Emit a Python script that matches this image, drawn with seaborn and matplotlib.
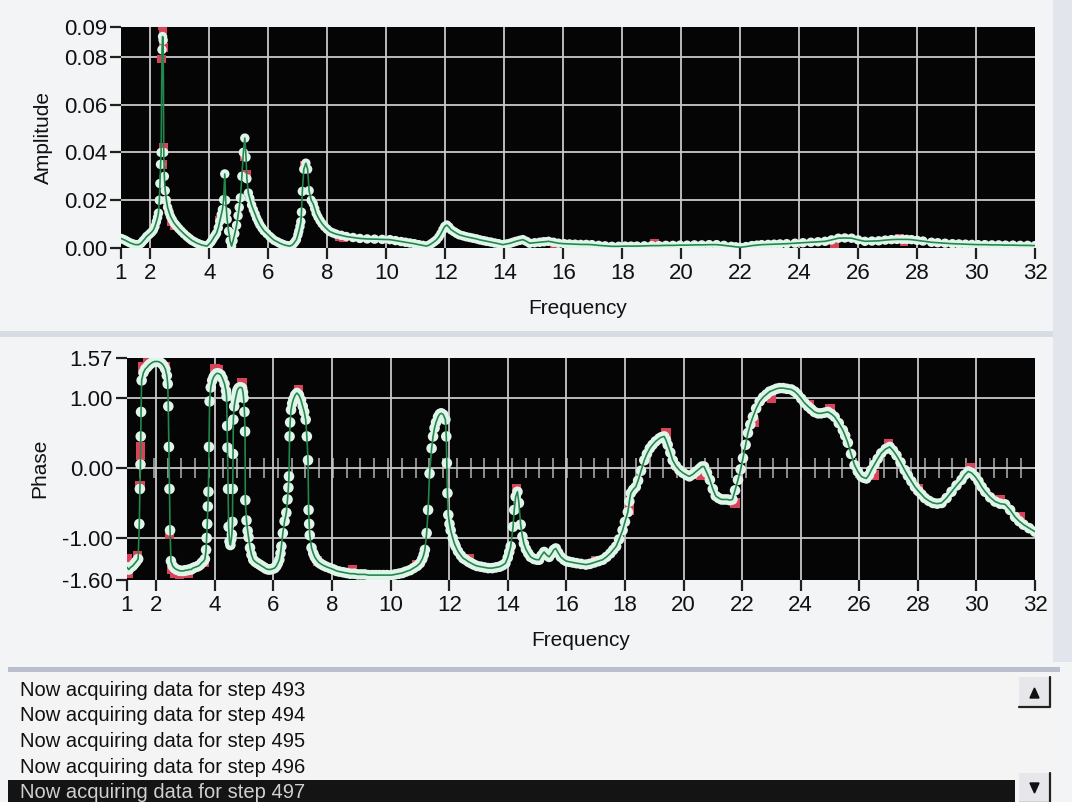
#Espectro de amplitude e fase (tela de aquisicao)
import numpy as np
import matplotlib
matplotlib.use("Agg")
import matplotlib.pyplot as plt
import seaborn as sns
from matplotlib.patches import Rectangle, Polygon


#DADOS

#amplitude - curva ajustada (verde/branca)
amp_freq = [1.00, 1.08, 1.15, 1.22, 1.30, 1.38, 1.45, 1.52, 1.60, 1.68, 1.75, 1.81,
            1.87, 1.94, 2.00, 2.05, 2.10, 2.15, 2.20, 2.24, 2.27, 2.30, 2.32, 2.34,
            2.36, 2.39, 2.41, 2.43, 2.45, 2.47, 2.50, 2.54, 2.58, 2.63, 2.68, 2.74,
            2.80, 2.85, 2.90, 2.97, 3.05, 3.14, 3.24, 3.32, 3.40, 3.49, 3.58, 3.66,
            3.75, 3.83, 3.92, 3.98, 4.05, 4.10, 4.15, 4.20, 4.24, 4.30, 4.35, 4.40,
            4.44, 4.48, 4.52, 4.55, 4.58, 4.60, 4.65, 4.70, 4.75, 4.80, 4.86, 4.92,
            4.97, 5.01, 5.05, 5.10, 5.15, 5.20, 5.24, 5.27, 5.32, 5.37, 5.43, 5.49,
            5.55, 5.60, 5.66, 5.71, 5.78, 5.85, 5.95, 6.05, 6.12, 6.20, 6.30, 6.39,
            6.47, 6.55, 6.64, 6.73, 6.80, 6.85, 6.90, 6.95, 7.00, 7.03, 7.07, 7.10,
            7.12, 7.15, 7.20, 7.27, 7.33, 7.38, 7.45, 7.52, 7.57, 7.62, 7.68, 7.75,
            7.82, 7.90, 7.99, 8.08, 8.19, 8.30, 8.47, 8.64, 8.87, 9.10, 9.35, 9.60,
            9.86, 10.12, 10.31, 10.50, 10.65, 10.80, 10.95, 11.10, 11.24, 11.37, 11.46, 11.55,
            11.63, 11.70, 11.78, 11.85, 11.92, 11.98, 12.05, 12.12, 12.20, 12.30, 12.39, 12.48,
            12.60, 12.71, 12.83, 12.94, 13.06, 13.17, 13.29, 13.40, 13.54, 13.68, 13.81, 13.95,
            14.08, 14.20, 14.30, 14.40, 14.52, 14.63, 14.75, 14.86, 15.03, 15.20, 15.35, 15.50,
            15.67, 15.84, 16.03, 16.21, 16.40, 16.59, 16.78, 16.97, 17.20, 17.42, 17.65, 17.88,
            18.10, 18.30, 18.50, 18.75, 19.00, 19.24, 19.48, 19.72, 19.96, 20.20, 20.45, 20.70,
            20.95, 21.20, 21.45, 21.70, 21.85, 22.00, 22.20, 22.40, 22.57, 22.73, 22.95, 23.15,
            23.35, 23.58, 23.86, 24.13, 24.40, 24.64, 24.88, 25.10, 25.33, 25.55, 25.78, 26.00,
            26.23, 26.47, 26.70, 26.92, 27.13, 27.32, 27.50, 27.65, 27.81, 28.00, 28.20, 28.49,
            28.70, 28.95, 29.20, 29.42, 29.64, 29.86, 30.07, 30.30, 30.54, 30.77, 31.00, 31.25,
            31.50, 31.75, 32.00]
amp_fit = [0.0040, 0.0036, 0.0032, 0.0027, 0.0022, 0.0018, 0.0015, 0.0014, 0.0014, 0.0020, 0.0030, 0.0038,
           0.0048, 0.0055, 0.0062, 0.0068, 0.0076, 0.0090, 0.0110, 0.0128, 0.0146, 0.0200, 0.0270, 0.0350,
           0.0400, 0.0830, 0.0885, 0.0870, 0.0400, 0.0300, 0.0240, 0.0200, 0.0170, 0.0150, 0.0132, 0.0118,
           0.0105, 0.0097, 0.0090, 0.0080, 0.0070, 0.0059, 0.0048, 0.0040, 0.0032, 0.0026, 0.0020, 0.0016,
           0.0012, 0.0010, 0.0008, 0.0015, 0.0025, 0.0035, 0.0045, 0.0054, 0.0062, 0.0085, 0.0112, 0.0140,
           0.0161, 0.0202, 0.0310, 0.0200, 0.0150, 0.0120, 0.0070, 0.0030, 0.0008, 0.0030, 0.0060, 0.0095,
           0.0135, 0.0170, 0.0210, 0.0300, 0.0400, 0.0460, 0.0380, 0.0290, 0.0230, 0.0208, 0.0180, 0.0160,
           0.0142, 0.0125, 0.0110, 0.0097, 0.0084, 0.0072, 0.0060, 0.0048, 0.0040, 0.0032, 0.0026, 0.0020,
           0.0016, 0.0012, 0.0010, 0.0008, 0.0012, 0.0018, 0.0026, 0.0035, 0.0055, 0.0070, 0.0090, 0.0110,
           0.0150, 0.0237, 0.0330, 0.0355, 0.0330, 0.0240, 0.0200, 0.0185, 0.0165, 0.0145, 0.0130, 0.0115,
           0.0102, 0.0090, 0.0079, 0.0069, 0.0063, 0.0058, 0.0053, 0.0048, 0.0044, 0.0040, 0.0038, 0.0037,
           0.0036, 0.0035, 0.0031, 0.0027, 0.0024, 0.0021, 0.0018, 0.0014, 0.0011, 0.0008, 0.0013, 0.0020,
           0.0027, 0.0034, 0.0046, 0.0060, 0.0077, 0.0090, 0.0096, 0.0088, 0.0076, 0.0068, 0.0061, 0.0055,
           0.0051, 0.0047, 0.0044, 0.0041, 0.0038, 0.0034, 0.0031, 0.0028, 0.0025, 0.0021, 0.0018, 0.0014,
           0.0017, 0.0020, 0.0024, 0.0028, 0.0032, 0.0035, 0.0028, 0.0020, 0.0022, 0.0024, 0.0026, 0.0028,
           0.0024, 0.0020, 0.0018, 0.0017, 0.0016, 0.0015, 0.0015, 0.0014, 0.0011, 0.0009, 0.0007, 0.0007,
           0.0008, 0.0008, 0.0008, 0.0009, 0.0010, 0.0010, 0.0011, 0.0011, 0.0012, 0.0012, 0.0013, 0.0013,
           0.0014, 0.0014, 0.0011, 0.0007, 0.0005, 0.0003, 0.0006, 0.0010, 0.0012, 0.0014, 0.0015, 0.0016,
           0.0017, 0.0018, 0.0020, 0.0022, 0.0024, 0.0026, 0.0028, 0.0034, 0.0041, 0.0042, 0.0041, 0.0034,
           0.0028, 0.0029, 0.0030, 0.0033, 0.0035, 0.0036, 0.0036, 0.0036, 0.0035, 0.0032, 0.0029, 0.0024,
           0.0022, 0.0020, 0.0018, 0.0017, 0.0016, 0.0015, 0.0014, 0.0014, 0.0013, 0.0013, 0.0012, 0.0012,
           0.0011, 0.0011, 0.0010]

#amplitude - pontos medidos (vermelho)
amp_red_freq = [2.38, 2.40, 2.42, 2.44, 2.44, 2.43, 2.49, 2.56, 2.62, 2.72, 2.82, 4.33,
                5.17, 5.26, 7.22, 8.40, 8.55, 15.40, 15.70, 19.10, 25.10, 25.20, 27.40, 27.55]
amp_red = [0.0790, 0.0930, 0.0915, 0.0840, 0.0420, 0.0350, 0.0200, 0.0180, 0.0150, 0.0110, 0.0095, 0.0115,
           0.0380, 0.0310, 0.0345, 0.0045, 0.0042, 0.0030, 0.0010, 0.0018, 0.0030, 0.0015, 0.0040, 0.0025]

#fase - curva ajustada
phase_freq = [1.00, 1.06, 1.12, 1.19, 1.25, 1.31, 1.38, 1.42, 1.44, 1.46, 1.47, 1.48,
              1.50, 1.56, 1.62, 1.69, 1.75, 1.81, 1.88, 1.94, 2.00, 2.06, 2.12, 2.19,
              2.25, 2.31, 2.36, 2.39, 2.41, 2.43, 2.45, 2.47, 2.50, 2.56, 2.62, 2.69,
              2.75, 2.81, 2.88, 2.94, 3.00, 3.06, 3.12, 3.19, 3.25, 3.31, 3.38, 3.44,
              3.50, 3.56, 3.62, 3.66, 3.70, 3.72, 3.74, 3.76, 3.78, 3.80, 3.82, 3.86,
              3.91, 3.96, 4.01, 4.06, 4.12, 4.20, 4.26, 4.33, 4.38, 4.40, 4.42, 4.43,
              4.45, 4.47, 4.50, 4.53, 4.56, 4.58, 4.60, 4.61, 4.62, 4.63, 4.66, 4.70,
              4.74, 4.77, 4.81, 4.85, 4.89, 4.93, 4.96, 4.98, 5.01, 5.03, 5.04, 5.08,
              5.12, 5.15, 5.20, 5.25, 5.31, 5.38, 5.45, 5.53, 5.60, 5.68, 5.75, 5.82,
              5.90, 5.97, 6.04, 6.10, 6.15, 6.20, 6.24, 6.27, 6.32, 6.38, 6.44, 6.48,
              6.51, 6.53, 6.55, 6.57, 6.60, 6.64, 6.68, 6.74, 6.80, 6.87, 6.94, 7.00,
              7.05, 7.10, 7.14, 7.18, 7.20, 7.22, 7.24, 7.30, 7.36, 7.41, 7.47, 7.55,
              7.62, 7.70, 7.80, 7.93, 8.05, 8.15, 8.25, 8.38, 8.50, 8.62, 8.75, 8.88,
              9.00, 9.12, 9.25, 9.38, 9.50, 9.62, 9.75, 9.88, 10.03, 10.15, 10.28, 10.40,
              10.52, 10.66, 10.78, 10.90, 11.00, 11.08, 11.13, 11.17, 11.23, 11.28, 11.33, 11.40,
              11.45, 11.50, 11.55, 11.62, 11.68, 11.73, 11.80, 11.87, 11.90, 11.92, 11.94, 11.97,
              12.01, 12.05, 12.12, 12.18, 12.22, 12.30, 12.40, 12.48, 12.56, 12.66, 12.75, 12.84,
              12.95, 13.08, 13.20, 13.33, 13.47, 13.60, 13.72, 13.82, 13.92, 14.00, 14.05, 14.10,
              14.18, 14.22, 14.27, 14.33, 14.38, 14.44, 14.50, 14.55, 14.62, 14.70, 14.78, 14.90,
              15.00, 15.07, 15.15, 15.24, 15.32, 15.41, 15.50, 15.57, 15.64, 15.72, 15.81, 15.92,
              16.00, 16.10, 16.22, 16.35, 16.50, 16.67, 16.80, 16.95, 17.10, 17.24, 17.37, 17.50,
              17.60, 17.70, 17.80, 17.92, 18.00, 18.10, 18.15, 18.20, 18.28, 18.37, 18.45, 18.55,
              18.66, 18.75, 18.85, 18.94, 19.05, 19.17, 19.25, 19.34, 19.40, 19.46, 19.55, 19.63,
              19.74, 19.86, 19.98, 20.10, 20.20, 20.32, 20.43, 20.55, 20.63, 20.70, 20.80, 20.90,
              21.00, 21.10, 21.20, 21.30, 21.40, 21.50, 21.58, 21.67, 21.76, 21.86, 21.95, 22.03,
              22.12, 22.20, 22.28, 22.37, 22.48, 22.60, 22.72, 22.83, 22.94, 23.06, 23.17, 23.28,
              23.40, 23.53, 23.68, 23.80, 23.90, 24.02, 24.13, 24.25, 24.36, 24.47, 24.59, 24.70,
              24.82, 24.93, 25.05, 25.16, 25.30, 25.44, 25.52, 25.61, 25.72, 25.84, 25.95, 26.07,
              26.16, 26.24, 26.33, 26.41, 26.52, 26.63, 26.75, 26.90, 27.04, 27.15, 27.27, 27.41,
              27.55, 27.66, 27.78, 27.90, 28.02, 28.13, 28.24, 28.38, 28.52, 28.66, 28.81, 28.98,
              29.15, 29.32, 29.49, 29.60, 29.72, 29.83, 29.95, 30.07, 30.18, 30.30, 30.47, 30.64,
              30.81, 30.98, 31.15, 31.32, 31.46, 31.61, 31.80, 32.00]
phase_fit = [-1.42, -1.45, -1.42, -1.40, -1.37, -1.34, -1.30, -0.80, -0.30, 0.05, 0.45, 0.80,
             1.25, 1.36, 1.41, 1.44, 1.47, 1.49, 1.51, 1.52, 1.52, 1.52, 1.51, 1.49,
             1.46, 1.41, 1.32, 1.20, 0.88, 0.30, -0.30, -0.89, -1.33, -1.40, -1.43, -1.45,
             -1.46, -1.47, -1.47, -1.47, -1.46, -1.46, -1.45, -1.45, -1.43, -1.42, -1.41, -1.40,
             -1.38, -1.35, -1.33, -1.30, -1.17, -1.00, -0.80, -0.55, -0.34, 0.30, 0.95, 1.15,
             1.25, 1.30, 1.33, 1.35, 1.35, 1.33, 1.28, 1.20, 1.10, 1.02, 0.60, 0.29,
             -0.30, -0.84, -1.05, -1.10, -1.02, -0.95, -0.77, -0.30, 0.20, 0.69, 0.88, 0.98,
             1.06, 1.11, 1.14, 1.15, 1.15, 1.14, 1.08, 1.00, 0.80, 0.52, -0.46, -0.75,
             -0.90, -0.99, -1.14, -1.24, -1.31, -1.34, -1.36, -1.38, -1.40, -1.42, -1.44, -1.45,
             -1.45, -1.44, -1.43, -1.40, -1.36, -1.31, -1.22, -1.12, -0.93, -0.76, -0.64, -0.45,
             -0.28, -0.12, 0.45, 0.65, 0.83, 0.92, 0.98, 1.04, 1.07, 1.04, 0.97, 0.88,
             0.80, 0.69, 0.45, 0.11, -0.60, -0.80, -0.96, -1.14, -1.22, -1.27, -1.31, -1.35,
             -1.37, -1.39, -1.41, -1.43, -1.45, -1.47, -1.48, -1.49, -1.50, -1.51, -1.51, -1.52,
             -1.52, -1.52, -1.53, -1.53, -1.53, -1.53, -1.53, -1.53, -1.53, -1.52, -1.51, -1.50,
             -1.48, -1.46, -1.43, -1.40, -1.36, -1.30, -1.24, -1.17, -0.93, -0.60, -0.08, 0.28,
             0.45, 0.57, 0.65, 0.73, 0.77, 0.78, 0.76, 0.69, 0.45, 0.07, -0.36, -0.67,
             -0.80, -0.89, -1.00, -1.08, -1.12, -1.19, -1.25, -1.29, -1.31, -1.34, -1.36, -1.38,
             -1.40, -1.41, -1.42, -1.43, -1.43, -1.42, -1.41, -1.39, -1.36, -1.28, -1.20, -1.12,
             -0.84, -0.60, -0.41, -0.34, -0.50, -0.81, -0.98, -1.08, -1.16, -1.22, -1.27, -1.30,
             -1.31, -1.31, -1.25, -1.20, -1.24, -1.27, -1.22, -1.17, -1.15, -1.21, -1.27, -1.31,
             -1.33, -1.34, -1.35, -1.36, -1.37, -1.38, -1.37, -1.35, -1.33, -1.31, -1.27, -1.22,
             -1.17, -1.12, -1.02, -0.89, -0.77, -0.63, -0.48, -0.36, -0.31, -0.27, -0.18, -0.04,
             0.11, 0.20, 0.28, 0.33, 0.38, 0.42, 0.44, 0.45, 0.40, 0.33, 0.22, 0.11,
             0.03, -0.03, -0.07, -0.10, -0.12, -0.09, -0.05, -0.01, 0.02, 0.02, -0.07, -0.17,
             -0.30, -0.40, -0.43, -0.45, -0.45, -0.45, -0.46, -0.45, -0.32, -0.17, -0.02, 0.14,
             0.33, 0.50, 0.62, 0.73, 0.85, 0.95, 1.01, 1.05, 1.09, 1.11, 1.13, 1.14,
             1.14, 1.13, 1.12, 1.09, 1.05, 0.99, 0.93, 0.88, 0.84, 0.80, 0.78, 0.78,
             0.79, 0.80, 0.77, 0.73, 0.64, 0.54, 0.46, 0.36, 0.20, 0.04, -0.05, -0.12,
             -0.14, -0.15, -0.10, -0.03, 0.05, 0.13, 0.21, 0.27, 0.30, 0.25, 0.18, 0.08,
             -0.03, -0.11, -0.19, -0.27, -0.33, -0.38, -0.43, -0.47, -0.50, -0.51, -0.50, -0.43,
             -0.34, -0.25, -0.17, -0.10, -0.05, -0.07, -0.12, -0.19, -0.27, -0.34, -0.42, -0.48,
             -0.51, -0.52, -0.60, -0.70, -0.76, -0.81, -0.86, -0.91]

#fase - pontos medidos (vermelho)
phase_red_freq = [1.02, 1.05, 1.12, 1.35, 1.45, 1.47, 1.47, 1.55, 1.70, 2.30, 2.45, 2.52,
                  2.62, 2.80, 3.10, 3.65, 4.00, 4.10, 4.93, 6.85, 7.50, 8.70, 10.90, 12.70,
                  14.30, 17.00, 18.15, 19.40, 20.60, 21.75, 22.40, 23.00, 24.30, 25.00, 26.50, 27.00,
                  28.00, 29.80, 30.80, 31.50]
phase_red = [-1.30, -1.50, -1.35, -1.25, -0.25, 0.18, 0.30, 1.45, 1.53, 1.45, -0.95, -1.45,
             -1.50, -1.52, -1.50, -1.35, 1.42, 1.40, 1.22, 1.12, -1.33, -1.45, -1.38, -1.30,
             -0.30, -1.33, -0.60, 0.50, -0.10, -0.50, 0.65, 1.00, 0.90, 0.85, -0.10, 0.35,
             -0.30, 0.00, -0.45, -0.70]

#eixos
freq_ticks = [1, 2, 4, 6, 8, 10, 12, 14, 16, 18, 20, 22, 24, 26, 28, 30, 32]
amp_ticks = [0.0, 0.02, 0.04, 0.06, 0.08, 0.0925]
amp_ticklabels = ["0.00", "0.02", "0.04", "0.06", "0.08", "0.09"]
phase_ticks = [-1.6, -1.0, 0.0, 1.0, 1.57]
phase_ticklabels = ["-1.60", "-1.00", "0.00", "1.00", "1.57"]

#mensagens da lista
steps = [493, 494, 495, 496, 497]


#CONFIGURACOES VISUAIS
sns.set_theme(style="dark")
plt.rcParams["font.family"] = ["Liberation Sans", "DejaVu Sans"]

W, H = 1072, 802
BG = "#f3f4f6"
fig = plt.figure(figsize=(W / 100, H / 100), dpi=100, facecolor=BG)


def px_axes(x0, y0, x1, y1, z=2):
    #cria eixo a partir de coordenadas em pixels (origem no topo)
    return fig.add_axes([x0 / W, 1 - y1 / H, (x1 - x0) / W, (y1 - y0) / H], zorder=z)


#fundo da "interface"
ui = fig.add_axes([0, 0, 1, 1], zorder=0)
ui.set_xlim(0, W)
ui.set_ylim(H, 0)
ui.axis("off")
ui.add_patch(Rectangle((0, 331), W, 6, color="#d7dce4", lw=0))
ui.add_patch(Rectangle((1053, 0), 19, 662, color="#e2e6ec", lw=0))
#caixa de lista
ui.add_patch(Rectangle((8, 668), 1052, 134, facecolor="#f4f4f4", edgecolor="none"))
ui.add_patch(Rectangle((8, 667), 1052, 5, color="#b9bfcd", lw=0))
ui.add_patch(Rectangle((8, 780), 1007, 22, color="#141414", lw=0))
#botoes de rolagem
for y0 in (677, 773):
    ui.add_patch(Rectangle((1019, y0), 31, 30, facecolor="#e7e7eb", edgecolor="none"))
    ui.plot([1019, 1050, 1050], [y0 + 30, y0 + 30, y0], color="#222222", lw=1.6)
ui.add_patch(Polygon([[1030, 698], [1039, 698], [1034.5, 688]], color="#111111"))
ui.add_patch(Polygon([[1030, 783], [1039, 783], [1034.5, 793]], color="#111111"))

for i, s in enumerate(steps):
    cor = "#d0d0d0" if i == len(steps) - 1 else "#111111"
    ui.text(20, 690 + i * 25.7, f"Now acquiring data for step {s}",
            fontsize=14.5, color=cor, ha="left", va="center")


def desenha_painel(ax, fx, fy, rx, ry, mk_s, xgrid, ygrid):
    ax.set_facecolor("#050505")
    for v in xgrid:
        ax.axvline(v, color="#c8c8c8", lw=1.3, zorder=1)
    for h in ygrid:
        ax.axhline(h, color="#c8c8c8", lw=1.3, zorder=1)

    #pontos medidos em vermelho por baixo
    sns.scatterplot(x=rx, y=ry, ax=ax, color="#d8435a", marker="s", s=mk_s * 0.8,
                    edgecolor="none", zorder=2, legend=False)
    #marcadores claros + linha verde fina por cima
    sns.scatterplot(x=fx, y=fy, ax=ax, color="#dff5ea", s=mk_s,
                    edgecolor="none", zorder=4, legend=False)
    sns.lineplot(x=fx, y=fy, ax=ax, color="#23874c", linewidth=1.2,
                 sort=False, estimator=None, zorder=5)

    for sp in ax.spines.values():
        sp.set_visible(False)
    ax.set_xlim(1, 32)
    ax.set_xticks(freq_ticks)
    ax.set_xticklabels([str(t) for t in freq_ticks])
    ax.tick_params(axis="both", bottom=True, left=True, direction="out", length=8,
                   width=1.6, color="#202020", labelsize=16, labelcolor="#111111")
    ax.tick_params(axis="x", pad=3)
    ax.tick_params(axis="y", pad=2)
    ax.set_xlabel("")
    ax.set_ylabel("")
    ax.grid(False)


#PAINEL DE AMPLITUDE
ax1 = px_axes(121, 27, 1035, 248)
desenha_painel(ax1, amp_freq, amp_fit, amp_red_freq, amp_red, 46,
               freq_ticks[1:-1], amp_ticks[1:-1])
ax1.set_ylim(0, amp_ticks[-1])
ax1.set_yticks(amp_ticks)
ax1.set_yticklabels(amp_ticklabels)

#PAINEL DE FASE
ax2 = px_axes(127, 358, 1035, 580)
ax2.vlines(np.arange(1.45, 32, 0.47), -0.14, 0.14, color="#b5b5b5", lw=1.1, zorder=1)
desenha_painel(ax2, phase_freq, phase_fit, phase_red_freq, phase_red, 58,
               freq_ticks[1:-1], [-1.0, 0.0, 1.0])
ax2.set_ylim(-1.6, 1.57)
ax2.set_yticks(phase_ticks)
ax2.set_yticklabels(phase_ticklabels)

#rotulos dos eixos
fig.text(43 / W, 1 - 137 / H, "Amplitude", rotation=90, ha="center", va="center",
         fontsize=15, color="#111111")
fig.text(578 / W, 1 - 308 / H, "Frequency", ha="center", va="center",
         fontsize=15, color="#111111")
fig.text(40 / W, 1 - 468 / H, "Phase", rotation=90, ha="center", va="center",
         fontsize=15, color="#111111")
fig.text(581 / W, 1 - 641 / H, "Frequency", ha="center", va="center",
         fontsize=15, color="#111111")

#salva grafico
plt.savefig("out.png", dpi=100, facecolor=BG)
